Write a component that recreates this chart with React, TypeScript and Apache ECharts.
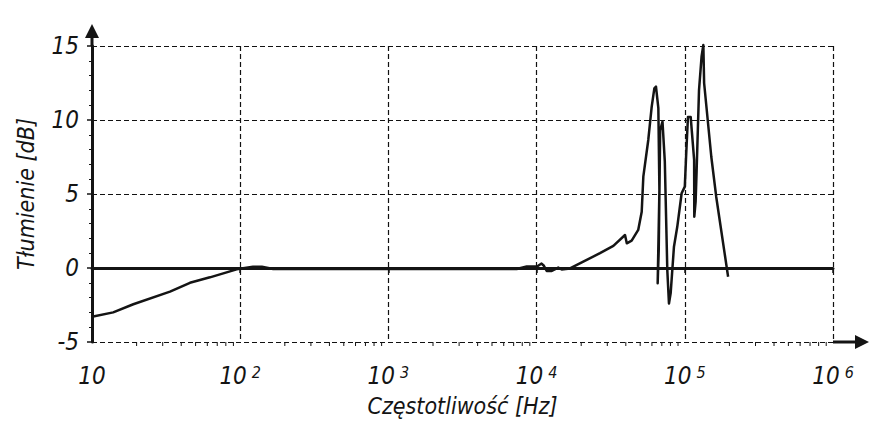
import React, { useEffect, useRef } from "react";
import * as echarts from "echarts";

// Frequency [Hz] and attenuation [dB] (in drawing order)
const FREQ: number[] = [
  10, 13.9, 19, 33.6, 45.8, 62.5, 94.6, 122, 140, 167,
  7340, 8580, 10070, 10800, 11200, 11700, 12650, 14000, 14770, 16800,
  20650, 26770, 32950, 39500, 40600, 43800, 48500, 51200, 52500, 56700,
  59800, 62300, 63900, 66300, 67400, 65600, 66700, 68200, 70700, 73300,
  76200, 78200, 80300, 84500, 89000, 95200, 100000, 102000, 105000, 109600,
  115600, 115900, 118300, 120200, 124700, 129800, 133400, 135000, 151000, 163000,
  196000,
];
const ATTEN: number[] = [
  -3.3, -3.0, -2.45, -1.6, -1.0, -0.63, -0.09, 0.09, 0.09, -0.07,
  -0.07, 0.1, 0.1, 0.3, 0.15, -0.2, -0.2, 0.03, -0.1, -0.03,
  0.43, 1.0, 1.49, 2.23, 1.67, 1.85, 2.57, 3.8, 6.17, 8.65,
  10.9, 12.14, 12.25, 10.8, 5.27, -1.03, 1.2, 9.3, 9.9, 7.2,
  -0.14, -2.4, -1.7, 1.44, 2.8, 5.05, 5.5, 7.5, 10.2, 10.2,
  7.3, 3.47, 4.48, 6.6, 12.0, 14.3, 15.07, 12.5, 7.5, 4.8,
  -0.59,
];

// Axis ranges and tick values
const X_MIN = 10;
const X_MAX = 1e6;
const Y_MIN = -5;
const Y_MAX = 15;
const Y_STEP = 5;
const MINOR_X_TICKS: number[] = [
  20, 30, 40, 50, 60, 70, 80, 90,
  200, 300, 400, 500, 600, 700, 800, 900,
  2000, 3000, 4000, 5000, 6000, 7000, 8000, 9000,
  20000, 30000, 40000, 50000, 60000, 70000, 80000, 90000,
  200000, 300000, 400000, 500000, 600000, 700000, 800000, 900000,
];

const X_TITLE = "Częstotliwość [Hz]";
const Y_TITLE = "Tłumienie [dB]";

const FONT = "'DejaVu Sans Condensed', 'DejaVu Sans', Verdana, sans-serif";
const INK = "#141414";

export default function App() {
  const ref = useRef<HTMLDivElement>(null);

  useEffect(() => {
    document.body.style.margin = "0";
    const el = ref.current;
    if (!el) return;
    const chart = echarts.init(el, undefined, { renderer: "svg" });

    const L = 92, T = 46, R = 833, B = 342;

    chart.setOption({
      animation: false,
      backgroundColor: "#ffffff",
      grid: {
        left: L,
        top: T,
        right: 869 - R,
        bottom: 431 - B,
        containLabel: false,
        outerBoundsMode: "none",
      },
      xAxis: {
        type: "log",
        logBase: 10,
        min: X_MIN,
        max: X_MAX,
        name: X_TITLE,
        nameLocation: "middle",
        nameGap: 52,
        nameTextStyle: {
          fontFamily: FONT,
          fontStyle: "italic",
          fontSize: 23,
          color: INK,
        },
        axisLine: { show: true, lineStyle: { color: INK, width: 3 } },
        axisTick: { show: true, length: 5, lineStyle: { color: INK, width: 1.5 } },
        minorTick: { show: false },
        splitLine: {
          show: true,
          lineStyle: { color: "#111", width: 1.2, type: [5, 3] },
        },
        axisLabel: {
          margin: 22,
          color: INK,
          fontFamily: FONT,
          fontStyle: "italic",
          fontSize: 24,
          formatter: (v: number) => {
            const e = Math.round(Math.log10(v));
            return e === 1 ? "10" : `10{sup|${e}}`;
          },
          rich: {
            sup: {
              fontFamily: FONT,
              fontStyle: "italic",
              fontSize: 16,
              color: INK,
              verticalAlign: "top",
              padding: [0, 0, 0, 5],
            },
          },
        },
      },
      yAxis: {
        type: "value",
        min: Y_MIN,
        max: Y_MAX,
        interval: Y_STEP,
        name: Y_TITLE,
        nameLocation: "middle",
        nameGap: 55,
        nameTextStyle: {
          fontFamily: FONT,
          fontStyle: "italic",
          fontSize: 23,
          color: INK,
        },
        axisLine: { show: true, lineStyle: { color: INK, width: 3 } },
        axisTick: { show: true, length: 5, lineStyle: { color: INK, width: 1.5 } },
        minorTick: { show: true, splitNumber: 5, length: 3, lineStyle: { color: INK, width: 1 } },
        splitLine: {
          show: true,
          lineStyle: { color: "#111", width: 1.2, type: [5, 3] },
        },
        axisLabel: {
          margin: 13,
          color: INK,
          fontFamily: FONT,
          fontStyle: "italic",
          fontSize: 24,
        },
      },
      series: [
        {
          type: "line",
          data: FREQ.map((f, i) => [f, ATTEN[i]]),
          showSymbol: false,
          symbol: "none",
          clip: false,
          lineStyle: { color: INK, width: 2.5, join: "round" },
          z: 5,
        },
        {
          type: "custom",
          data: MINOR_X_TICKS.map((v) => [v, Y_MIN]),
          silent: true,
          clip: false,
          z: 6,
          renderItem: (_params: any, api: any) => {
            const p = api.coord([api.value(0), api.value(1)]);
            return {
              type: "line",
              shape: { x1: p[0], y1: p[1], x2: p[0], y2: p[1] + 4 },
              style: { stroke: INK, lineWidth: 1 },
            };
          },
        },
      ],
      graphic: [
        {
          type: "line",
          shape: { x1: R, y1: B, x2: 858, y2: B },
          style: { stroke: INK, lineWidth: 3 },
          silent: true,
        },
        {
          type: "polygon",
          shape: { points: [[855, B - 7], [869, B], [855, B + 7]] },
          style: { fill: INK },
          silent: true,
        },
        {
          type: "line",
          shape: { x1: L, y1: T, x2: L, y2: 34 },
          style: { stroke: INK, lineWidth: 3 },
          silent: true,
        },
        {
          type: "polygon",
          shape: { points: [[85, 38], [L, 24], [99, 38]] },
          style: { fill: INK },
          silent: true,
        },
      ],
    });

    return () => chart.dispose();
  }, []);

  return <div ref={ref} style={{ width: 869, height: 431 }} />;
}
